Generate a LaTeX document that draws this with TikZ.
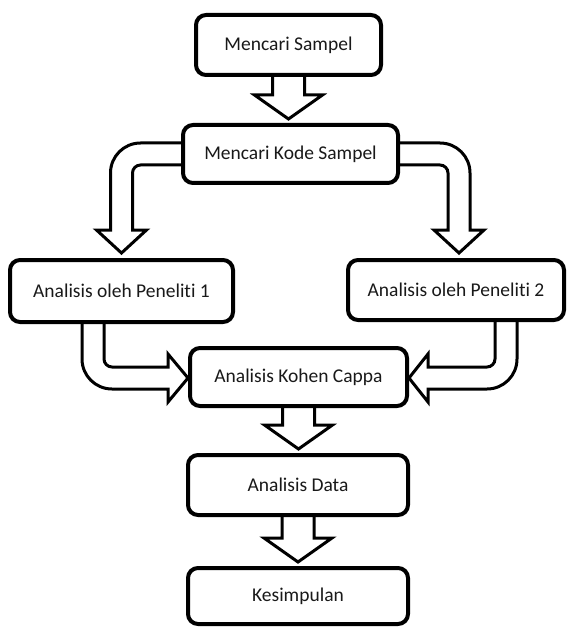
\documentclass[tikz,border=0pt]{standalone}
\usepackage{fontspec}
\setmainfont[Ligatures={NoCommon}]{Carlito}
\usetikzlibrary{calc,backgrounds}
\tikzset{
  fbox/.style={draw=black, line width=4pt, rounded corners=10pt, fill=white,
    inner sep=0pt, text=black!90, font=\fontsize{19.5}{23}\selectfont},
  barrow/.style={draw=black, fill=white, line width=3pt, line join=miter}
}
\newcommand{\blockdown}[2]{%
  \draw[barrow] ($(#1.south)+(-16,-4)$) -- ($(#1.south |- #2.north)+(-16,-28)$)
    -- ($(#1.south |- #2.north)+(-34,-28)$) -- ($(#1.south |- #2.north)+(0,-4)$)
    -- ($(#1.south |- #2.north)+(34,-28)$) -- ($(#1.south |- #2.north)+(16,-28)$)
    -- ($(#1.south)+(16,-4)$);}
\begin{document}
\begin{tikzpicture}[x=1pt,y=-1pt]
\useasboundingbox (0,0) rectangle (567,628);
\node[fbox, minimum width=185pt, minimum height=60pt] (b1) at (288.5,45) {Mencari Sampel};
\node[fbox, minimum width=215pt, minimum height=58pt] (b2) at (290.5,154) {Mencari Kode Sampel};
\node[fbox, minimum width=223pt, minimum height=62pt] (p1) at (121.5,291) {Analisis oleh Peneliti 1};
\node[fbox, minimum width=216pt, minimum height=60pt] (p2) at (456,290) {Analisis oleh Peneliti 2};
\node[fbox, minimum width=217pt, minimum height=58pt] (k) at (298.5,377) {Analisis Kohen Cappa};
\node[fbox, minimum width=220pt, minimum height=60pt] (d) at (298,485) {Analisis Data};
\node[fbox, minimum width=220pt, minimum height=56pt] (s) at (298,596) {Kesimpulan};
\begin{scope}[on background layer]
  \blockdown{b1}{b2}
  \blockdown{k}{d}
  \blockdown{d}{s}
  % top left curved arrow
  \draw[barrow] ($(b2.west)+(4,-11)$) -- (140.5,143)
    .. controls (123.9,143) and (110.5,156.4) .. (110.5,173)
    -- (110.5,230) -- (96.5,230) -- ($(p1.north)+(0,-5)$) -- (146.5,230) -- (132.5,230)
    -- (132.5,173) .. controls (132.5,168.6) and (136.1,165) .. (140.5,165)
    -- ($(b2.west)+(4,11)$);
  % top right curved arrow
  \draw[barrow] ($(b2.east)+(-4,-11)$) -- (440,143)
    .. controls (456.6,143) and (470,156.4) .. (470,173)
    -- (470,230) -- (484,230) -- ($(p2.north)+(3,-5)$) -- (434,230) -- (448,230)
    -- (448,173) .. controls (448,168.6) and (444.4,165) .. (440,165)
    -- ($(b2.east)+(-4,11)$);
  % bottom left curved arrow
  \draw[barrow] ($(p1.south)+(-39.5,-4)$) -- (82,359)
    .. controls (82,375.6) and (95.4,389) .. (112,389)
    -- (168,389) -- (168,402) -- ($(k.west)+(0,1)$) -- (168,354) -- (168,367)
    -- (112,367) .. controls (107.6,367) and (104,363.4) .. (104,359)
    -- ($(p1.south)+(-17.5,-4)$);
  % bottom right curved arrow
  \draw[barrow] ($(p2.south)+(61,-4)$) -- (517,359)
    .. controls (517,375.6) and (503.6,389) .. (487,389)
    -- (428,389) -- (428,402) -- ($(k.east)+(0,1)$) -- (428,354) -- (428,367)
    -- (487,367) .. controls (491.4,367) and (495,363.4) .. (495,359)
    -- ($(p2.south)+(39,-4)$);
\end{scope}
\end{tikzpicture}
\end{document}
